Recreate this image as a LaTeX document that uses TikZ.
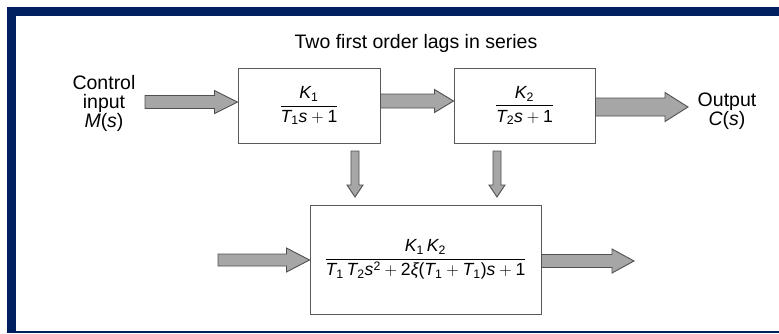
\documentclass[tikz,border=0pt]{standalone}
\usepackage{amsmath}
\usepackage{fontspec}
\setmainfont{Liberation Sans}
\usetikzlibrary{calc}
\definecolor{navy}{RGB}{0,32,96}
\definecolor{arrowfill}{RGB}{166,166,166}
\definecolor{arrowline}{RGB}{80,80,80}
\definecolor{boxline}{RGB}{90,90,90}
\newcommand\iv[1]{\text{\itshape #1}}
\newcommand\blockarr[5]{%
  \coordinate (bah) at ($(#2)!#5!(#1)$);
  \draw[bigarrow] ($(#1)!#3!90:(#2)$) -- ($(bah)!#3!90:(#2)$) -- ($(bah)!#4!90:(#2)$) -- (#2)
    -- ($(bah)!#4!-90:(#2)$) -- ($(bah)!#3!-90:(#2)$) -- ($(#1)!#3!-90:(#2)$) -- cycle;}
\begin{document}
\begin{tikzpicture}[x=1pt,y=-1pt,
  bigarrow/.style={fill=arrowfill,draw=arrowline,line width=0.9pt,line join=miter},
  tfbox/.style={draw=boxline,line width=1pt,fill=white,inner sep=0pt,
    font=\fontsize{17.6}{20}\selectfont},
  lbl/.style={align=center,inner sep=0pt,font=\fontsize{19.5}{19}\selectfont}]
\useasboundingbox (0,0) rectangle (779,333);
\fill[white] (0,0) rectangle (779,333);
\fill[navy] (7,7) rectangle (779,333);
\fill[white] (16,16) rectangle (779,331);

\node[lbl,anchor=base] (title) at (416,48) {Two first order lags in series};
\node[lbl] (lin) at (104,103) {Control\\input\\\textit{M}(\textit{s})};
\node[lbl] (lout) at (727,111) {Output\\\textit{C}(\textit{s})};

\node[tfbox,minimum width=142pt,minimum height=75pt] (b1) at (309,105.5)
  {$\dfrac{\iv{K}_{\text{1}}}{\iv{T}_{\text{1}}\iv{s}+\text{1}}$};
\node[tfbox,minimum width=141pt,minimum height=75pt] (b2) at (524.5,105.5)
  {$\dfrac{\iv{K}_{\text{2}}}{\iv{T}_{\text{2}}\iv{s}+\text{1}}$};
\node[tfbox,minimum width=231pt,minimum height=109pt] (b3) at (425.5,259.5)
  {$\dfrac{\iv{K}_{\text{1}}\,\iv{K}_{\text{2}}}{\iv{T}_{\text{1}}\,\iv{T}_{\text{2}}\iv{s}^{\text{2}}+\text{2}\iv{ξ}\text{(}\iv{T}_{\text{1}}+\iv{T}_{\text{1}}\text{)}\iv{s}+\text{1}}$};

\coordinate (a1s) at (145,102);
\coordinate (a1t) at (b1.west |- a1s);
\coordinate (a2s) at (b1.east |- 0,101);
\coordinate (a2t) at (b2.west |- a2s);
\coordinate (a3t) at (688,107);
\coordinate (a3s) at (b2.east |- a3t);
\coordinate (v1s) at (355,151);
\coordinate (v1t) at (355,197);
\coordinate (v2s) at (497,151);
\coordinate (v2t) at (497,197);
\coordinate (c1s) at (218,260);
\coordinate (c1t) at (b3.west |- c1s);
\coordinate (c2t) at (634,261);
\coordinate (c2s) at (b3.east |- c2t);

\blockarr{a1s}{a1t}{6.5pt}{11.5pt}{23pt}
\blockarr{a2s}{a2t}{7pt}{11.5pt}{19pt}
\blockarr{a3s}{a3t}{9pt}{14.5pt}{23pt}
\blockarr{v1s}{v1t}{4pt}{8pt}{12pt}
\blockarr{v2s}{v2t}{4pt}{8pt}{12pt}
\blockarr{c1s}{c1t}{6pt}{12pt}{23pt}
\blockarr{c2s}{c2t}{6.5pt}{12pt}{22pt}
\end{tikzpicture}
\end{document}
